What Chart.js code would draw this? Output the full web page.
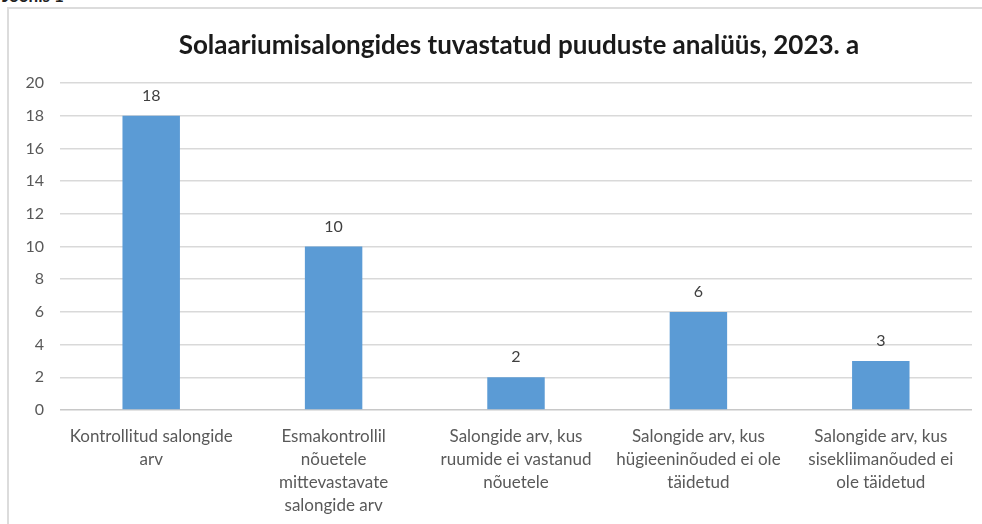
<!DOCTYPE html>
<html>
<head>
<meta charset="utf-8">
<script src="https://cdn.jsdelivr.net/npm/chart.js@4.4.1/dist/chart.umd.min.js"></script>
<style>
  html, body { margin: 0; padding: 0; background: #fff; }
  body { width: 982px; height: 524px; position: relative; overflow: hidden; }
  #cap { position: absolute; left: 2px; top: -15px; font: bold 17px Lato, sans-serif; color: #222; }
  #frame { position: absolute; left: 7px; top: 7px; width: 990px; height: 530px;
           border-left: 2px solid #dcdcdc; border-top: 2px solid #dcdcdc; }
  #wrap { position: absolute; left: 0; top: 0; width: 982px; height: 524px; }
</style>
</head>
<body>
<div id="cap">Joonis 1</div>
<div id="frame"></div>
<div id="wrap"><canvas id="c" width="982" height="524"></canvas></div>
<script>
const titleText = "Solaariumisalongides tuvastatud puuduste analüüs, 2023. a";
const categories = [
  ["Kontrollitud salongide", "arv"],
  ["Esmakontrollil", "nõuetele", "mittevastavate", "salongide arv"],
  ["Salongide arv, kus", "ruumide ei vastanud", "nõuetele"],
  ["Salongide arv, kus", "hügieeninõuded ei ole", "täidetud"],
  ["Salongide arv, kus", "sisekliimanõuded ei", "ole täidetud"]
];
const values = [18, 10, 2, 6, 3];
const yTicks = [0, 2, 4, 6, 8, 10, 12, 14, 16, 18, 20];

const valueLabels = {
  id: 'valueLabels',
  afterDatasetsDraw(chart) {
    const ctx = chart.ctx;
    const meta = chart.getDatasetMeta(0);
    ctx.save();
    ctx.font = '16px Lato, sans-serif';
    ctx.fillStyle = '#404040';
    ctx.textAlign = 'center';
    ctx.textBaseline = 'middle';
    meta.data.forEach((bar, i) => {
      ctx.fillText(String(values[i]), bar.x, bar.y - 20);
    });
    ctx.restore();
  }
};

const plotTitle = {
  id: 'plotTitle',
  afterDraw(chart) {
    const ctx = chart.ctx;
    const a = chart.chartArea;
    ctx.save();
    ctx.font = 'bold 26px Lato, sans-serif';
    ctx.fillStyle = '#1a1a1a';
    ctx.textAlign = 'center';
    ctx.textBaseline = 'middle';
    ctx.fillText(titleText, (a.left + a.right) / 2 + 3, 46);
    ctx.restore();
  }
};

new Chart(document.getElementById('c'), {
  type: 'bar',
  data: {
    labels: categories,
    datasets: [{
      data: values,
      backgroundColor: '#5b9bd5',
      borderWidth: 0,
      barPercentage: 0.315,
      categoryPercentage: 1.0
    }]
  },
  options: {
    responsive: false,
    animation: false,
    devicePixelRatio: 1,
    layout: { padding: { left: 8, right: 10, top: 83, bottom: 0 } },
    plugins: {
      legend: { display: false },
      tooltip: { enabled: false },
      title: { display: false }
    },
    scales: {
      x: {
        afterFit(scale) { scale.height = 114; },
        grid: { display: false, drawTicks: false },
        border: { display: false },
        ticks: {
          color: '#595959',
          font: { family: 'Lato, sans-serif', size: 17, lineHeight: '23px' },
          padding: 15,
          maxRotation: 0,
          autoSkip: false
        }
      },
      y: {
        min: 0, max: 20,
        afterFit(scale) { scale.width = 52; },
        afterBuildTicks(scale) { scale.ticks = yTicks.map(v => ({ value: v })); },
        grid: {
          color: (c) => c.tick && c.tick.value === 0 ? '#c8c8c8' : '#d9d9d9',
          lineWidth: 1.5, drawTicks: false
        },
        border: { display: false },
        ticks: {
          color: '#595959',
          font: { family: 'Lato, sans-serif', size: 16 },
          padding: 16
        }
      }
    }
  },
  plugins: [valueLabels, plotTitle]
});
</script>
</body>
</html>
